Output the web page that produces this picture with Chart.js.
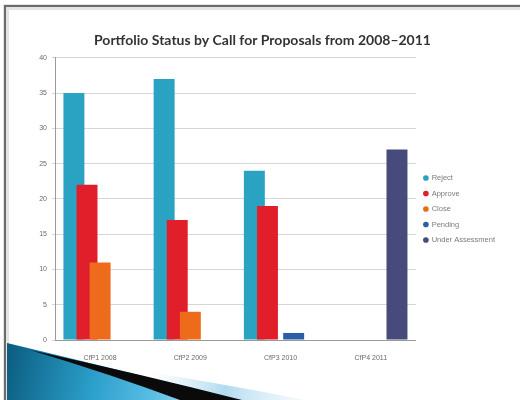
<!DOCTYPE html>
<html>
<head>
<meta charset="utf-8">
<script src="https://cdn.jsdelivr.net/npm/chart.js@4/dist/chart.umd.min.js"></script>
<style>
html,body{margin:0;padding:0;background:#fff;}
#wrap{position:relative;width:520px;height:400px;}
canvas{display:block;}
</style>
</head>
<body>
<div id="wrap"><canvas id="c" width="520" height="400"></canvas></div>
<script>
const categories = ["CfP1 2008", "CfP2 2009", "CfP3 2010", "CfP4 2011"];
const seriesNames = ["Reject", "Approve", "Close", "Pending", "Under Assessment"];
const reject = [35, 37, 24, null];
const approve = [22, 17, 19, null];
const closeV = [11, 4, null, null];
const pending = [null, null, 1, null];
const underAssessment = [null, null, null, 27];
const yTicks = [0, 5, 10, 15, 20, 25, 30, 35, 40];
const colors = ["#2aa3c3", "#e11f2b", "#ef6b1c", "#2c5ea6", "#474b7b"];

const seriesValues = [reject, approve, closeV, pending, underAssessment];

const slidePlugin = {
  id: 'slide',
  beforeDraw(chart) {
    const ctx = chart.ctx;
    ctx.save();
    ctx.fillStyle = '#fff';
    ctx.fillRect(0, 0, 520, 400);
    ctx.fillStyle = '#e4e4e4';
    ctx.fillRect(4, 4, 516, 6);
    ctx.fillRect(3, 4, 6, 396);
    ctx.fillStyle = '#6b6b6b';
    ctx.fillRect(5, 5, 515, 2);
    ctx.fillRect(4, 5, 2, 395);
    ctx.restore();
  },
  afterDraw(chart) {
    const ctx = chart.ctx;
    ctx.save();
    let g0 = ctx.createLinearGradient(150, 375, 300, 400);
    g0.addColorStop(0, 'rgba(200,230,245,0)');
    g0.addColorStop(0.5, 'rgba(170,215,238,0.9)');
    g0.addColorStop(1, 'rgba(230,244,250,0.5)');
    ctx.fillStyle = g0;
    ctx.beginPath();
    ctx.moveTo(110, 366);
    ctx.quadraticCurveTo(220, 383, 305, 400);
    ctx.lineTo(220, 400);
    ctx.closePath();
    ctx.fill();
    let g = ctx.createLinearGradient(8, 360, 200, 400);
    g.addColorStop(0, '#0c5f82');
    g.addColorStop(0.45, '#2c9fcb');
    g.addColorStop(0.75, '#58bde3');
    g.addColorStop(1, '#9fd8ef');
    ctx.fillStyle = g;
    ctx.beginPath();
    ctx.moveTo(7, 343);
    ctx.quadraticCurveTo(120, 370, 240, 400);
    ctx.lineTo(7, 400);
    ctx.closePath();
    ctx.fill();
    ctx.fillStyle = '#0a0a0a';
    ctx.beginPath();
    ctx.moveTo(30, 350);
    ctx.quadraticCurveTo(140, 374, 242, 400);
    ctx.lineTo(180, 400);
    ctx.quadraticCurveTo(110, 374, 30, 350);
    ctx.closePath();
    ctx.fill();
    ctx.restore();
  }
};

const orderPlugin = {
  id: 'drawOrder',
  beforeDatasetsDraw(chart) {
    for (let i = 0; i < chart.data.datasets.length; i++) {
      const m = chart.getDatasetMeta(i);
      if (!m.hidden) m.controller.draw();
    }
    return false;
  }
};

new Chart(document.getElementById('c'), {
  type: 'bar',
  data: {
    labels: categories,
    datasets: seriesNames.map((n, i) => ({
      label: n,
      data: seriesValues[i],
      backgroundColor: colors[i],
      borderWidth: 0,
      categoryPercentage: 0.726,
      barPercentage: 1.6
    }))
  },
  options: {
    responsive: false,
    animation: false,
    layout: { padding: { left: 20, top: 32, right: 15, bottom: 14 } },
    plugins: {
      title: {
        display: true,
        text: 'Portfolio Status by Call for Proposals from 2008–2011',
        color: '#333',
        font: { family: 'Lato', size: 14, weight: 'bold' },
        padding: { top: 0, bottom: 9 }
      },
      legend: {
        position: 'right',
        align: 'center',
        labels: {
          usePointStyle: true,
          pointStyle: 'circle',
          boxWidth: 4,
          boxHeight: 4,
          padding: 8,
          color: '#7a7a7a',
          font: { family: 'Liberation Sans', size: 7.5 }
        }
      },
      tooltip: { enabled: false }
    },
    scales: {
      x: {
        grid: { display: false },
        border: { color: '#9a9a9a' },
        ticks: { color: '#6a6a6a', font: { family: 'Liberation Sans', size: 7 }, padding: 6 },
        afterFit(s) { s.height = 46; }
      },
      y: {
        min: 0, max: 40,
        afterBuildTicks(s) { s.ticks = yTicks.map(v => ({ value: v })); },
        grid: { color: '#d6d6d6', drawTicks: true, tickLength: 3 },
        border: { color: '#9a9a9a' },
        ticks: { color: '#6a6a6a', font: { family: 'Liberation Sans', size: 7 }, padding: 5 },
        afterFit(s) { s.width = 35; }
      }
    }
  },
  plugins: [slidePlugin, orderPlugin]
});
</script>
</body>
</html>
